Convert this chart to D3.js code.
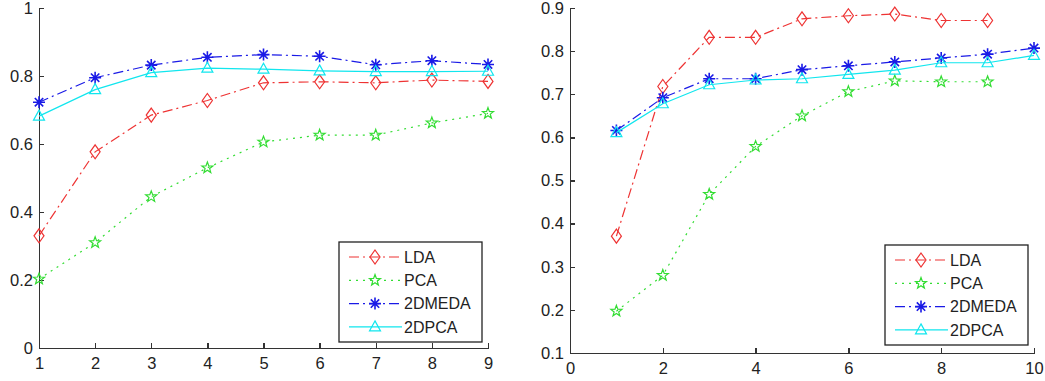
<!DOCTYPE html>
<head>
  <meta charset="utf-8">
  <title>Recognition rates</title>
  <style>
    body {margin: 0; background: #fff; font: 16px "Liberation Sans", Arial, sans-serif;}
    .axis path, .axis line {fill: none; stroke: #333; stroke-width: 1.3; shape-rendering: crispEdges;}
    .axis text {fill: #222; font-size: 16.5px; font-family: "Liberation Sans", Arial, sans-serif;}
    .line {fill: none; stroke-width: 1.2;}
    .legend-box {fill: #fff; stroke: #222; stroke-width: 1.3;}
    .legend text {fill: #222; font-size: 16px;}
  </style>
</head>
<body>
  <svg width="1045" height="381"></svg>
  <script src="https://cdn.jsdelivr.net/npm/d3@7"></script>
  <script>
    // series names, colours and styles (MATLAB-like)
    var names = ["LDA", "PCA", "2DMEDA", "2DPCA"];
    var colors = ["#ee3333", "#33dd33", "#1a1ae6", "#11e6ee"];
    var dashes = ["10,4,2,4", "2,5", "10,4,2,4", null];
    var markers = ["diamond", "star", "asterisk", "triangle"];

    // left panel
    var leftX = [1, 2, 3, 4, 5, 6, 7, 8, 9];
    var leftLDA    = [0.33, 0.577, 0.685, 0.728, 0.78, 0.783, 0.78, 0.788, 0.784];
    var leftPCA    = [0.203, 0.31, 0.445, 0.53, 0.606, 0.626, 0.626, 0.662, 0.69];
    var left2DMEDA = [0.723, 0.795, 0.832, 0.855, 0.863, 0.858, 0.833, 0.845, 0.834];
    var left2DPCA  = [0.682, 0.76, 0.81, 0.823, 0.82, 0.815, 0.813, 0.813, 0.814];
    var leftXTicks = [1, 2, 3, 4, 5, 6, 7, 8, 9];
    var leftYTicks = [0, 0.2, 0.4, 0.6, 0.8, 1];

    // right panel
    var rightX = [1, 2, 3, 4, 5, 6, 7, 8, 9, 10];
    var rightLDA    = [0.371, 0.718, 0.832, 0.832, 0.875, 0.882, 0.886, 0.871, 0.871];
    var rightPCA    = [0.197, 0.28, 0.468, 0.579, 0.65, 0.706, 0.731, 0.729, 0.729];
    var right2DMEDA = [0.616, 0.692, 0.736, 0.736, 0.757, 0.766, 0.775, 0.784, 0.793, 0.807];
    var right2DPCA  = [0.611, 0.678, 0.722, 0.733, 0.736, 0.746, 0.756, 0.773, 0.773, 0.79];
    var rightXTicks = [0, 2, 4, 6, 8, 10];
    var rightYTicks = [0.1, 0.2, 0.3, 0.4, 0.5, 0.6, 0.7, 0.8, 0.9];

    var svg = d3.select("svg");

    function markerPath(type) {
      switch (type) {
        case "diamond": return "M0,-7L5,0L0,7L-5,0Z";
        case "triangle": return "M0,-6L5.5,4L-5.5,4Z";
        case "star":
          var pts = [];
          for (var k = 0; k < 10; k++) {
            var r = k % 2 ? 2.4 : 5.8, a = -Math.PI / 2 + k * Math.PI / 5;
            pts.push([r * Math.cos(a), r * Math.sin(a)]);
          }
          return "M" + pts.join("L") + "Z";
        case "asterisk":
          return "M0,-6L0,6M-6,0L6,0M-4.2,-4.2L4.2,4.2M-4.2,4.2L4.2,-4.2";
      }
    }

    function drawPanel(opt) {
      var x = d3.scaleLinear().domain(opt.xDomain).range([opt.left, opt.right]);
      var y = d3.scaleLinear().domain(opt.yDomain).range([opt.bottom, opt.top]);
      var g = svg.append("g");

      g.append("g")
          .attr("class", "axis")
          .attr("transform", "translate(0," + opt.bottom + ")")
          .call(d3.axisBottom(x).tickValues(opt.xTicks).tickSize(-5).tickPadding(9).tickSizeOuter(0)
            .tickFormat(d3.format("d")))
          .call(function(a) { a.selectAll("text").attr("dy", "0.71em"); });

      g.append("g")
          .attr("class", "axis")
          .attr("transform", "translate(" + opt.left + ",0)")
          .call(d3.axisLeft(y).tickValues(opt.yTicks).tickSize(-5).tickPadding(6).tickSizeOuter(0)
            .tickFormat(function(d) { return d === 0 || d === 1 ? d : d3.format(".1f")(d); }));

      var line = d3.line()
          .x(function(d) { return x(d[0]); })
          .y(function(d) { return y(d[1]); });

      opt.series.forEach(function(vals, i) {
        var pts = vals.map(function(v, j) { return [opt.xs[j], v]; });
        g.append("path")
            .attr("class", "line")
            .attr("d", line(pts))
            .style("stroke", colors[i])
            .style("stroke-dasharray", dashes[i]);
        g.selectAll(".m" + i)
            .data(pts)
          .enter().append("path")
            .attr("transform", function(d) { return "translate(" + x(d[0]) + "," + y(d[1]) + ")"; })
            .attr("d", markerPath(markers[i]))
            .style("fill", "none")
            .style("stroke", colors[i])
            .style("stroke-width", markers[i] === "asterisk" ? 1.6 : 1.2);
      });

      // legend
      var lg = g.append("g").attr("class", "legend")
          .attr("transform", "translate(" + opt.legend[0] + "," + opt.legend[1] + ")");
      lg.append("rect").attr("class", "legend-box")
          .attr("width", 143).attr("height", 100);
      var item = lg.selectAll(".item")
          .data(names)
        .enter().append("g")
          .attr("transform", function(d, i) { return "translate(0," + (15 + i * 23.3) + ")"; });
      item.append("line")
          .attr("x1", 10).attr("x2", 63)
          .style("stroke", function(d, i) { return colors[i]; })
          .style("stroke-width", 1.2)
          .style("stroke-dasharray", function(d, i) { return dashes[i]; });
      item.append("path")
          .attr("transform", "translate(36,0)")
          .attr("d", function(d, i) { return markerPath(markers[i]); })
          .style("fill", "none")
          .style("stroke", function(d, i) { return colors[i]; })
          .style("stroke-width", function(d, i) { return markers[i] === "asterisk" ? 1.6 : 1.2; });
      item.append("text")
          .attr("x", 65)
          .attr("dy", "0.36em")
          .text(function(d) { return d; });
    }

    drawPanel({
      xDomain: [1, 9], yDomain: [0, 1],
      left: 39, right: 488, top: 8, bottom: 348,
      xTicks: leftXTicks, yTicks: leftYTicks, xs: leftX,
      series: [leftLDA, leftPCA, left2DMEDA, left2DPCA],
      legend: [339, 242]
    });

    drawPanel({
      xDomain: [0, 10], yDomain: [0.1, 0.9],
      left: 570, right: 1034, top: 8, bottom: 353,
      xTicks: rightXTicks, yTicks: rightYTicks, xs: rightX,
      series: [rightLDA, rightPCA, right2DMEDA, right2DPCA],
      legend: [885, 245]
    });
  </script>
</body>
